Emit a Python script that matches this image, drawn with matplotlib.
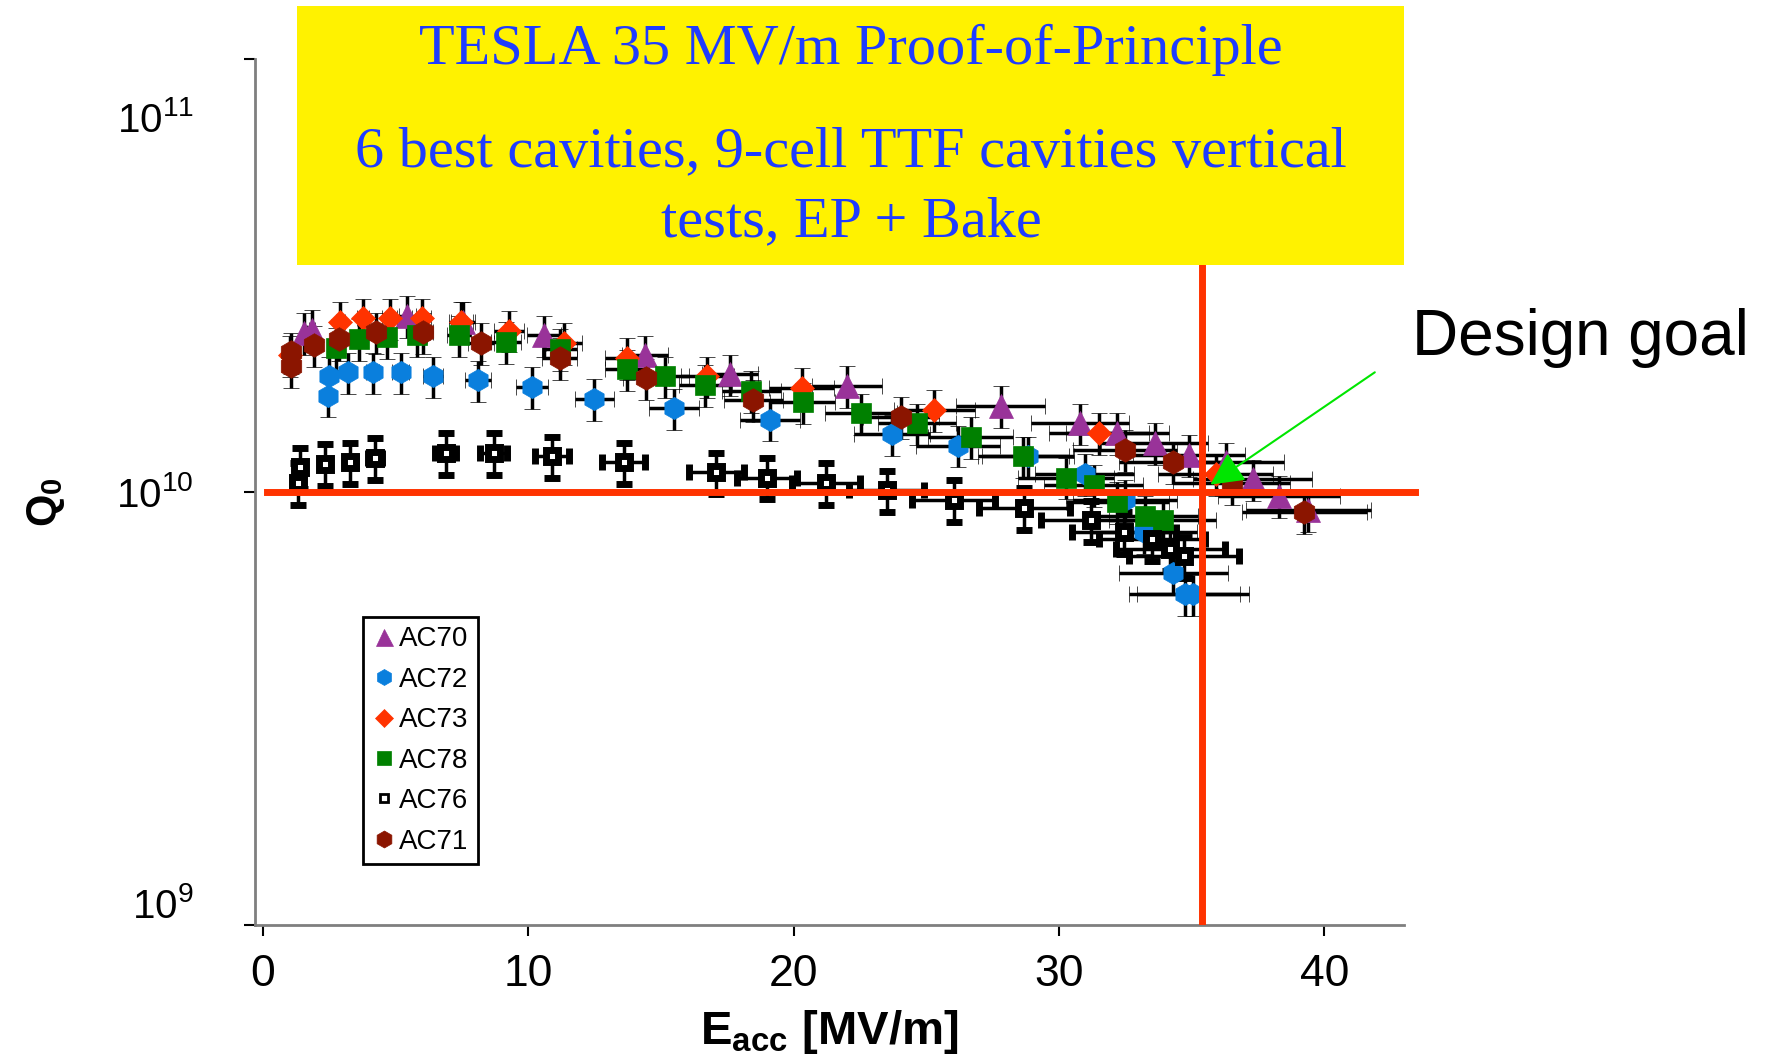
import matplotlib
matplotlib.use('Agg')
import numpy as np
import matplotlib.pyplot as plt
from matplotlib import font_manager
from matplotlib.lines import Line2D
from matplotlib.patches import Rectangle
from matplotlib.ticker import NullLocator
from matplotlib.transforms import ScaledTranslation

# narrow font for axis labels if present
names = {f.name for f in font_manager.fontManager.ttflist}
NARROW = 'Liberation Sans Narrow' if 'Liberation Sans Narrow' in names else 'Liberation Sans'

plt.rcParams['font.family'] = ['Liberation Sans', 'DejaVu Sans']
plt.rcParams['mathtext.fontset'] = 'custom'
plt.rcParams['mathtext.rm'] = 'Liberation Sans'
plt.rcParams['mathtext.it'] = 'Liberation Sans:italic'
plt.rcParams['mathtext.bf'] = NARROW + ':bold'

# ---------- data (Eacc in MV/m, Q0 in units of 1e10) ----------
ac70_e = [1.56, 1.86, 5.44, 7.55, 10.6, 14.4, 17.6, 22.0, 27.8, 30.8, 32.2, 33.6,
          34.9, 36.3, 37.3, 38.3, 39.4]
ac70_q = [2.33, 2.37, 2.55, 2.47, 2.30, 2.07, 1.87, 1.76, 1.58, 1.44, 1.37, 1.30,
          1.22, 1.17, 1.07, 0.98, 0.91]

ac72_e = [2.45, 2.49, 3.21, 4.14, 5.19, 6.41, 8.10, 10.13, 12.49, 15.49, 19.11,
          23.71, 26.2, 28.82, 30.97, 32.49, 33.2, 34.3, 34.73, 35.06]
ac72_q = [1.67, 1.85, 1.89, 1.89, 1.89, 1.85, 1.81, 1.75, 1.64, 1.56, 1.47,
          1.36, 1.28, 1.21, 1.10, 0.96, 0.81, 0.65, 0.58, 0.58]

ac73_e = [1.01, 2.91, 3.76, 4.77, 5.99, 7.47, 9.28, 11.35, 13.7, 16.75, 20.3,
          25.3, 31.5, 35.9]
ac73_q = [2.07, 2.47, 2.52, 2.52, 2.52, 2.47, 2.36, 2.21, 2.04, 1.85, 1.74,
          1.55, 1.37, 1.10]

ac78_e = [2.74, 3.63, 4.68, 5.82, 7.38, 9.16, 11.18, 13.71, 15.15, 16.67, 18.4,
          20.34, 22.53, 24.64, 26.67, 28.65, 30.25, 31.3, 32.2, 33.25, 33.9]
ac78_q = [2.15, 2.26, 2.28, 2.30, 2.30, 2.22, 2.14, 1.92, 1.85, 1.77, 1.71,
          1.61, 1.52, 1.44, 1.34, 1.21, 1.08, 1.04, 0.95, 0.88, 0.86]

ac76_e = [1.31, 1.39, 2.32, 3.29, 4.22, 6.88, 8.69, 10.89, 13.59, 17.09, 18.99,
          21.22, 23.5, 26.03, 28.69, 31.2, 32.45, 33.5, 34.2, 34.7]
ac76_q = [1.05, 1.14, 1.16, 1.17, 1.20, 1.23, 1.23, 1.21, 1.17, 1.11, 1.08,
          1.05, 1.01, 0.96, 0.92, 0.86, 0.81, 0.78, 0.74, 0.71]

ac71_e = [1.05, 1.05, 1.94, 2.87, 4.26, 6.03, 8.23, 11.18, 14.43, 18.48, 24.05,
          32.49, 34.3, 36.5, 39.24]
ac71_q = [2.10, 1.95, 2.18, 2.26, 2.34, 2.34, 2.21, 2.04, 1.83, 1.63, 1.49,
          1.25, 1.17, 1.05, 0.90]

# measurement uncertainty (relative)
E_REL_ERR = 0.06
Q_REL_ERR = 0.11

DESIGN_E = 35.4
DESIGN_Q = 1e10

RED = '#FF3300'
YELLOW = '#FFF200'
BLUE = '#1E3CFF'

series = [
    ('AC70', ac70_e, ac70_q, '^', '#993399', 17, 'none'),
    ('AC72', ac72_e, ac72_q, 'h', '#0A7FDD', 16, 'none'),
    ('AC73', ac73_e, ac73_q, 'D', '#FF3300', 12.5, 'none'),
    ('AC78', ac78_e, ac78_q, 's', '#008000', 14, 'none'),
    ('AC76', ac76_e, ac76_q, 's', 'black', 8, 'white'),
    ('AC71', ac71_e, ac71_q, 'h', '#8B1500', 17, 'none'),
]

fig = plt.figure(figsize=(17.68, 10.6), dpi=100)
ax = fig.add_axes([255 / 1768, 1 - 925 / 1060, (1404 - 255) / 1768, (925 - 59) / 1060])
ax.set_yscale('log')
ax.set_xlim(-0.3, 43)
ax.set_ylim(1e9, 1e11)

handles = []
for name, e, q, marker, color, ms, face in series:
    e = np.array(e)
    q = np.array(q) * 1e10
    mfc = color if face == 'none' else face
    mew = 5 if face != 'none' else 0.5
    ax.errorbar(e, q, xerr=E_REL_ERR * e, yerr=Q_REL_ERR * q, fmt=marker,
                color=color, mfc=mfc, mec=color, ms=ms, mew=mew,
                ecolor='black', elinewidth=2.5, capsize=5.5, capthick=2.5, zorder=3)
    handles.append(Line2D([], [], ls='none', marker=marker, color=color, mfc=mfc,
                          mec=color, mew=2 if face != 'none' else 0.5,
                          ms=ms * 0.72, label=name))

# design goal lines
ax.plot([0.15, 43.4], [DESIGN_Q, DESIGN_Q], color=RED, lw=5, clip_on=False, zorder=5)
ax.plot([DESIGN_E, DESIGN_E], [1e9, 1e11], color=RED, lw=5, zorder=5)

ax.annotate('', xy=(35.7, 1.04e10), xytext=(41.9, 1.89e10),
            arrowprops=dict(arrowstyle='-|>,head_length=0.6,head_width=0.3',
                            color='#00E600', lw=1.5, mutation_scale=34,
                            shrinkA=0, shrinkB=0),
            annotation_clip=False, zorder=6)

# axes styling
for s in ['top', 'right']:
    ax.spines[s].set_visible(False)
for s in ['left', 'bottom']:
    ax.spines[s].set_color('#7f7f7f')
    ax.spines[s].set_linewidth(2)

ax.set_xticks([0, 10, 20, 30, 40])
ax.set_yticks([1e9, 1e10, 1e11])
ax.set_yticklabels([r'$10^{9}$', r'$10^{10}$', r'$10^{11}$'])
ax.yaxis.set_minor_locator(NullLocator())
ax.tick_params(axis='x', length=8, width=1.5, pad=13, labelsize=32)
ax.tick_params(axis='y', length=8, width=1.5, pad=36, labelsize=29)
for lab in ax.get_xticklabels():
    lab.set_fontfamily(NARROW)
ylabs = ax.get_yticklabels()
ylabs[0].set_transform(ylabs[0].get_transform() + ScaledTranslation(0, 0.22, fig.dpi_scale_trans))
ylabs[2].set_transform(ylabs[2].get_transform() + ScaledTranslation(0, -0.58, fig.dpi_scale_trans))

ax.set_ylabel(r'$\mathbf{Q_0}$', fontsize=30)
ax.yaxis.label.set_va('center')
ax.yaxis.set_label_coords(-0.182, 0.488)
ax.set_xlabel(r'$\mathbf{E_{acc}\ [MV/m]}$', fontsize=34)
ax.xaxis.label.set_va('center')
ax.xaxis.set_label_coords(0.5, -0.1236)

leg = ax.legend(handles=handles, loc='upper left', bbox_to_anchor=(0.094, 0.356),
                borderaxespad=0, fontsize=20, handlelength=0.8, handletextpad=0.15,
                labelspacing=0.52, borderpad=0.35, fancybox=False, framealpha=1)
leg.get_frame().set_edgecolor('black')
leg.get_frame().set_linewidth(2)

# title box
box = Rectangle((297 / 1768, 1 - 265 / 1060), (1404 - 297) / 1768, (265 - 6) / 1060,
                transform=fig.transFigure, facecolor=YELLOW, edgecolor='none', zorder=10)
fig.add_artist(box)
serif = ['Liberation Serif', 'DejaVu Serif']
fig.text(851 / 1768, 1 - 50 / 1060, 'TESLA 35 MV/m Proof-of-Principle', family=serif,
         fontsize=42, color=BLUE, ha='center', va='center', zorder=11)
fig.text(851 / 1768, 1 - 152 / 1060, '6 best cavities, 9-cell TTF cavities vertical',
         family=serif, fontsize=42, color=BLUE, ha='center', va='center', zorder=11)
fig.text(851 / 1768, 1 - 222 / 1060, 'tests, EP + Bake', family=serif,
         fontsize=42, color=BLUE, ha='center', va='center', zorder=11)

fig.text(1412 / 1768, 1 - 338 / 1060, 'Design goal', fontsize=46, ha='left', va='center')

fig.savefig('out.png', dpi=100)
